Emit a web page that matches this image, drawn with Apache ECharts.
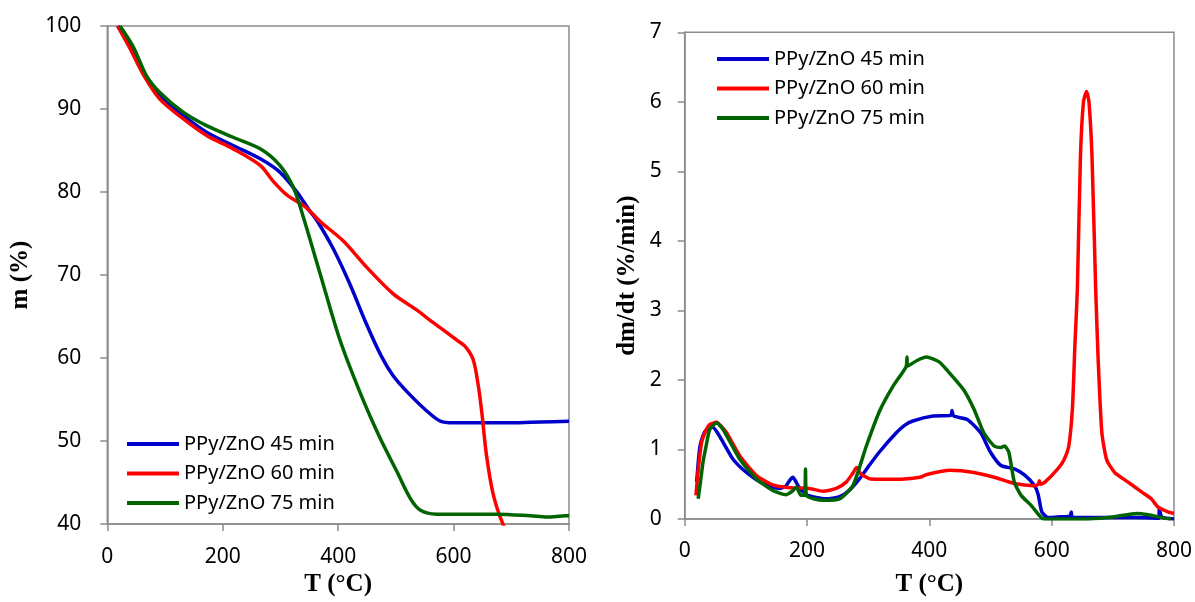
<!DOCTYPE html>
<html>
<head>
<meta charset="utf-8">
<script src="https://cdn.jsdelivr.net/npm/echarts@6/dist/echarts.min.js"></script>
<style>
html,body{margin:0;padding:0;background:#fff;}
#c{width:1195px;height:602px;}
</style>
</head>
<body>
<div id="c"></div>
<script>
// ---- Data ----
var seriesNames = ['PPy/ZnO 45 min', 'PPy/ZnO 60 min', 'PPy/ZnO 75 min'];
var xTicks = [0, 200, 400, 600, 800];

// TG curves (T in °C, m in %)
var tg45T = [18, 39, 62, 91, 132, 172, 218, 265, 299, 328, 351, 363, 392, 421, 449, 475, 495, 520, 554, 577, 600, 650, 700, 750, 800];
var tg45M = [100, 97.5, 94.4, 91.6, 89.2, 87.2, 85.6, 84.0, 82.4, 80.05, 77.7, 76.6, 73.1, 68.8, 64.1, 60.2, 57.9, 55.9, 53.6, 52.4, 52.2, 52.2, 52.2, 52.3, 52.4];

var tg60T = [18, 40, 62, 91, 132, 172, 218, 265, 288, 311, 345, 368, 409, 450, 496, 536, 560, 582, 605, 620, 634, 643, 649, 657, 669, 686, 695];
var tg60M = [100, 97.2, 94.2, 91.2, 88.8, 86.8, 85.2, 83.2, 81.25, 79.65, 78.1, 76.5, 74.1, 70.9, 67.7, 65.8, 64.5, 63.4, 62.2, 61.4, 59.8, 56.6, 53.4, 48.3, 43.5, 39.9, 38.9];

var tg75T = [22, 45, 68, 91, 132, 172, 218, 265, 299, 323, 340, 369, 403, 440, 473, 502, 525, 542, 571, 620, 675, 733, 762, 795, 800];
var tg75M = [100, 97.5, 94, 92, 89.6, 88, 86.6, 85.2, 83.2, 80.45, 76.9, 70.1, 62.2, 55.5, 50.3, 46.3, 43.1, 41.7, 41.2, 41.2, 41.2, 41.0, 40.85, 41.0, 41.0];

// DTG curves (T in °C, dm/dt in %/min)
var dtg45T = [19.5, 22, 25, 30, 36, 46, 55, 63, 79, 101, 128, 155, 165, 172, 177, 181, 186, 199, 215, 231, 253, 270, 286, 300, 318, 346, 360, 373, 406, 435, 437, 440, 462, 484, 500, 517, 539, 556, 572, 578, 584, 594, 610, 630, 632, 634, 680, 740, 775, 776, 780, 800];
var dtg45V = [0.53, 0.8, 1.05, 1.2, 1.29, 1.32, 1.22, 1.1, 0.86, 0.67, 0.51, 0.44, 0.47, 0.56, 0.6, 0.55, 0.47, 0.35, 0.31, 0.29, 0.32, 0.42, 0.58, 0.75, 0.96, 1.24, 1.35, 1.41, 1.48, 1.49, 1.56, 1.48, 1.43, 1.24, 0.96, 0.77, 0.72, 0.63, 0.48, 0.35, 0.1, 0.02, 0.03, 0.04, 0.1, 0.02, 0.02, 0.02, 0.01, 0.15, 0.03, 0.0];

var dtg60T = [18.4, 22, 27.7, 35, 41, 52, 60, 68.5, 90, 117, 144, 172, 204, 226, 248, 264, 275, 281, 288, 302, 346, 384, 396, 434, 473, 506, 539, 572, 578, 580, 582, 589, 610, 620, 628, 634, 638, 642, 647, 652, 657, 661, 666, 672, 676, 682, 690, 703, 725, 747, 763, 774, 791, 800];
var dtg60V = [0.34, 0.7, 1.1, 1.28, 1.36, 1.39, 1.33, 1.24, 0.91, 0.63, 0.49, 0.45, 0.44, 0.4, 0.44, 0.53, 0.66, 0.74, 0.65, 0.58, 0.57, 0.6, 0.64, 0.7, 0.67, 0.6, 0.51, 0.48, 0.5, 0.55, 0.5, 0.53, 0.72, 0.85, 1.05, 1.6, 2.5, 3.3, 5.2, 6.0, 6.15, 6.0, 5.2, 3.3, 2.3, 1.25, 0.85, 0.67, 0.53, 0.39, 0.29, 0.17, 0.1, 0.08];

var dtg75T = [22, 26, 30, 35, 41, 52, 60, 68.5, 90, 117, 144, 166, 176, 182.6, 190, 196, 197.5, 199, 226, 253, 275, 297, 318.5, 340, 362, 363.5, 364.5, 380, 395, 416, 429, 456, 473, 489, 506, 517, 523, 530, 539, 550, 566, 582, 588, 650, 700, 739, 758, 780, 795];
var dtg75V = [0.29, 0.55, 0.82, 1.05, 1.29, 1.38, 1.32, 1.2, 0.86, 0.58, 0.41, 0.35, 0.4, 0.46, 0.34, 0.34, 0.72, 0.34, 0.27, 0.29, 0.48, 1.05, 1.55, 1.9, 2.19, 2.33, 2.2, 2.28, 2.33, 2.26, 2.14, 1.86, 1.58, 1.24, 1.05, 1.03, 1.05, 0.96, 0.53, 0.34, 0.2, 0.03, 0.0, 0.0, 0.03, 0.08, 0.06, 0.02, 0.0];

var colors = ['#0000CC', '#FF0000', '#006400'];

function pairs(xs, ys) {
  var out = [];
  for (var i = 0; i < xs.length; i++) out.push([xs[i], ys[i]]);
  return out;
}

var axisGray = '#8c8c8c';
var tickFont = {fontFamily: 'Noto Sans', fontSize: 21, color: '#000'};
var titleFont = {fontFamily: 'Liberation Serif', fontSize: 25, fontWeight: 'bold', color: '#000'};

function xAxisCfg(gi, gap) {
  return {
    type: 'value', gridIndex: gi, min: 0, max: 800, interval: 200,
    axisLine: {show: true, onZero: false, lineStyle: {color: axisGray, width: 1.5}},
    axisTick: {show: true, length: 7, lineStyle: {color: axisGray, width: 1.5}},
    splitLine: {show: false},
    axisLabel: Object.assign({margin: 22, formatter: function (v) { return xTicks.indexOf(v) >= 0 ? String(v) : ''; }}, tickFont),
    name: 'T (°C)', nameLocation: 'middle', nameGap: gap, nameTextStyle: titleFont
  };
}
function yAxisCfg(gi, mn, mx, itv, name, gap, margin) {
  return {
    type: 'value', gridIndex: gi, min: mn, max: mx, interval: itv,
    axisLine: {show: true, onZero: false, lineStyle: {color: axisGray, width: 1.5}},
    axisTick: {show: true, length: 7, lineStyle: {color: axisGray, width: 1.5}},
    splitLine: {show: false},
    axisLabel: Object.assign({margin: margin}, tickFont),
    name: name, nameLocation: 'middle', nameGap: gap, nameRotate: 90, nameTextStyle: titleFont
  };
}

function lineSeries(name, data, xi, yi, color, w, sm) {
  return {
    name: name, type: 'line', xAxisIndex: xi, yAxisIndex: yi, data: data,
    showSymbol: false, symbol: 'none', smooth: sm,
    lineStyle: {color: color, width: w}, itemStyle: {color: color},
    clip: true, animation: false
  };
}

var legendBase = {
  orient: 'vertical', icon: 'rect', itemWidth: 52, itemHeight: 4, itemGap: 9.5, padding: 0,
  textStyle: {fontFamily: 'Noto Sans', fontSize: 20, color: '#000', lineHeight: 20},
  data: seriesNames, selectedMode: false
};

var chart = echarts.init(document.getElementById('c'), null, {renderer: 'canvas'});
chart.setOption({
  animation: false,
  backgroundColor: '#fff',
  grid: [
    {left: 107.3, right: 626, top: 26, bottom: 72.5, show: true, borderColor: axisGray, borderWidth: 1.5, backgroundColor: 'transparent'},
    {left: 684.7, right: 19.4, top: 32.3, bottom: 78, show: true, borderColor: axisGray, borderWidth: 1.5, backgroundColor: 'transparent'}
  ],
  legend: [
    Object.assign({}, legendBase, {left: 127, top: 434}),
    Object.assign({}, legendBase, {left: 717, top: 49})
  ],
  xAxis: [xAxisCfg(0, 47), xAxisCfg(1, 53)],
  yAxis: [
    yAxisCfg(0, 40, 100, 10, 'm (%)', 74, 26),
    yAxisCfg(1, 0, 7, 1, 'dm/dt (%/min)', 45, 23)
  ],
  series: [
    lineSeries(seriesNames[0], pairs(tg45T, tg45M), 0, 0, colors[0], 3.5, 0.3),
    lineSeries(seriesNames[1], pairs(tg60T, tg60M), 0, 0, colors[1], 3.5, 0.3),
    lineSeries(seriesNames[2], pairs(tg75T, tg75M), 0, 0, colors[2], 3.5, 0.3),
    lineSeries(seriesNames[0], pairs(dtg45T, dtg45V), 1, 1, colors[0], 3.5, 0.2),
    lineSeries(seriesNames[1], pairs(dtg60T, dtg60V), 1, 1, colors[1], 3.5, 0.2),
    lineSeries(seriesNames[2], pairs(dtg75T, dtg75V), 1, 1, colors[2], 3.5, 0.2)
  ]
});
</script>
</body>
</html>
